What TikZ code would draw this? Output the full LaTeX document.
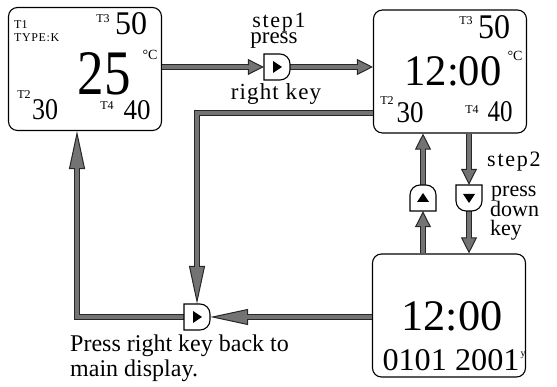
\documentclass[tikz,border=0pt]{standalone}
\usepackage{graphicx}
\usepackage{fontspec}
\setmainfont{Liberation Serif}
\newfontfamily\spaced[LetterSpace=8]{Liberation Serif}
\newfontfamily\loose[LetterSpace=5]{Liberation Serif}
\usetikzlibrary{arrows.meta}

% display digits, stretched to the size shown on the screen
\newcommand{\lcd}[3]{\resizebox{#1pt}{#2pt}{#3}}

\tikzset{
	screen/.style={draw, line width=1.1pt, rounded corners=9pt, minimum width=153pt, minimum height=123pt, inner sep=0pt},
	keyspot/.style={minimum width=26pt, minimum height=26pt, inner sep=0pt},
	keyline/.style={draw, line width=1.1pt, fill=white},
	tag/.style={font=\fontsize{12}{12}\selectfont, inner sep=0pt},
	say/.style={font=\fontsize{23}{23}\selectfont, inner sep=0pt},
	pipe/.style={draw=black!85, line width=6.5pt,
		-{Triangle[length=#1, width=16pt, line width=1pt, fill=black!55]},
		postaction={draw=black!55, line width=3.6pt, -, shorten >=#1-1.5pt}},
	pipe/.default=16pt
}

\begin{document}
\begin{tikzpicture}[x=1pt, y=1pt]
	\useasboundingbox (0,0) rectangle (557,387);

	% the three screens
	\node[screen] (main) at (85,318) {};
	\node[screen] (clock) at (450,315.5) {};
	\node[screen] (date) at (449,71.5) {};

	% main screen
	\node[tag, anchor=west] (t1) at (14,362) {T1};
	\node[tag, anchor=west, font=\fontsize{12}{12}\loose] (type) at (14,349) {TYPE:K};
	\node[tag] (t3a) at (103,368) {T3};
	\node[inner sep=0pt] (v3a) at (131,363) {\lcd{32}{22}{50}};
	\node[tag, font=\fontsize{14}{14}\selectfont] (dega) at (150,332) {°C};
	\node[inner sep=0pt] (v1) at (104,313) {\lcd{53}{42}{25}};
	\node[tag] (t2a) at (24,292) {T2};
	\node[inner sep=0pt] (v2a) at (45,277) {\lcd{26}{20}{30}};
	\node[tag] (t4a) at (107,281) {T4};
	\node[inner sep=0pt] (v4a) at (137,277) {\lcd{27}{19}{40}};

	% clock screen
	\node[tag] (t3b) at (466,366) {T3};
	\node[inner sep=0pt] (v3b) at (494,360) {\lcd{32}{23}{50}};
	\node[tag, font=\fontsize{14}{14}\selectfont] (degb) at (515,331) {°C};
	\node[inner sep=0pt] (timeb) at (453,316) {\lcd{97}{29}{12:00}};
	\node[tag] (t2b) at (387,286) {T2};
	\node[inner sep=0pt] (v2b) at (410,274) {\lcd{27}{20}{30}};
	\node[tag] (t4b) at (472,277) {T4};
	\node[inner sep=0pt] (v4b) at (500,275) {\lcd{25}{20}{40}};

	% date screen
	\node[inner sep=0pt] (timec) at (452,71) {\lcd{101}{29}{12:00}};
	\node[inner sep=0pt] (day) at (451,26.5) {\lcd{137}{21}{0101 2001}};
	\node[tag, font=\fontsize{10}{10}\selectfont] (yr) at (523,32) {y};

	% keys
	\node[keyspot] (kA) at (277,320) {};
	\node[keyspot] (kB) at (469,189) {};
	\node[keyspot] (kC) at (423,189) {};
	\node[keyspot] (kD) at (197,70) {};

	\coordinate (bendA) at (197,274);
	\coordinate (bendB) at (77,70);

	% arrows
	\draw[pipe] (main.east |- kA) -- (kA.west);
	\draw[pipe] (kA.east) -- (kA -| clock.west);
	\draw[pipe=38pt] (clock.west |- bendA) -- (bendA) -- (kD.north);
	\draw[pipe] (clock.south -| kB) -- (kB.north);
	\draw[pipe] (kB.south) -- (kB |- date.north);
	\draw[pipe] (kC |- date.north) -- (kC.south);
	\draw[pipe] (kC.north) -- (kC |- clock.south);
	\draw[pipe=38pt] (date.west |- kD) -- (kD.east);
	\draw[pipe=38pt] (kD.west) -- (bendB) -- (bendB |- main.south);

	\foreach \k/\r in {kA/0, kB/-90, kC/90, kD/0} {
		\begin{scope}[shift={(\k.center)}, rotate=\r]
			\draw[keyline] (-13,-13) -- (-13,13) -- (3,13) arc[start angle=90, end angle=0, radius=10]
				-- (13,-3) arc[start angle=0, end angle=-90, radius=10] -- cycle;
			\fill (-4,-6) -- (-4,6) -- (5,0) -- cycle;
		\end{scope}
	}

	% texts
	\node[say, anchor=base, font=\fontsize{22}{22}\spaced] (s1) at (279,359) {step1};
	\node[say, anchor=base] (p1) at (274,343) {press};
	\node[say, anchor=base, font=\fontsize{23}{23}\loose] (rk) at (276,287) {right key};
	\node[say, anchor=base west, font=\fontsize{22}{22}\spaced] (s2) at (487,220) {step2};
	\node[say, anchor=base west, font=\fontsize{22}{22}\selectfont] (p2) at (491,190) {press};
	\node[say, anchor=base west, font=\fontsize{22}{22}\selectfont] (dn) at (490,170) {down};
	\node[say, anchor=base west, font=\fontsize{22}{22}\selectfont] (ky) at (490,151) {key};
	\node[say, anchor=base west, font=\fontsize{24}{24}\selectfont] (back) at (70,35) {Press right key back to};
	\node[say, anchor=base west, font=\fontsize{24}{24}\selectfont] (md) at (70,10) {main display.};
\end{tikzpicture}
\end{document}
